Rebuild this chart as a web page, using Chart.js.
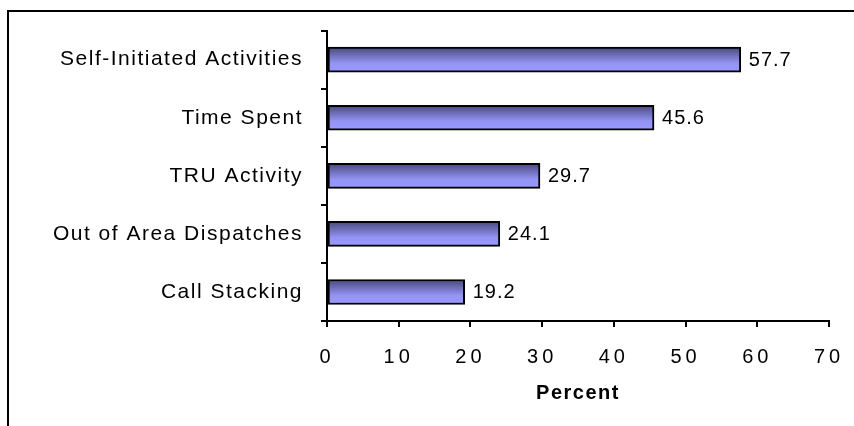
<!DOCTYPE html>
<html lang="en">
<head>
<meta charset="UTF-8">
<meta name="viewport" content="width=device-width, initial-scale=1.0">
<title>chart</title>
<style>
  body { margin: 0; background: #fff; }
  #wrap { position: relative; width: 854px; height: 426px; overflow: hidden; }
  #frame { position: absolute; left: 7px; top: 10px; width: 900px; height: 500px;
           border-top: 2px solid #000; border-left: 2px solid #000; }
  #myChart { position: absolute; left: 0; top: 0; }
</style>
</head>
<body>
<div id="wrap">
  <div id="frame"></div>
  <canvas id="myChart" width="854" height="426"></canvas>
</div>

<script src="https://cdn.jsdelivr.net/npm/chart.js"></script>
<script>
const categories = ['Self-Initiated Activities', 'Time Spent', 'TRU Activity', 'Out of Area Dispatches', 'Call Stacking'];
const percents = [57.7, 45.6, 29.7, 24.1, 19.2];
const xTicks = [0, 10, 20, 30, 40, 50, 60, 70];
const xTitle = 'Percent';

const FONT = '"Liberation Sans", Arial, sans-serif';

// vertical shading inside each bar, dark at the top edge
const barFill = (c) => {
  const chart = c.chart;
  if (!chart.chartArea || c.dataIndex === undefined) return '#9999ff';
  const y = chart.scales.y.getPixelForValue(c.dataIndex);
  const g = chart.ctx.createLinearGradient(0, y - 12, 0, y + 12);
  g.addColorStop(0, '#4a4a7e');
  g.addColorStop(0.65, '#9494f5');
  g.addColorStop(1, '#9999ff');
  return g;
};

// spacing for the texts + value labels next to the bars
const textPlugin = {
  id: 'textPlugin',
  beforeDraw(chart) {
    chart.ctx.letterSpacing = '1.5px';
  },
  afterDatasetsDraw(chart) {
    const ctx = chart.ctx;
    const meta = chart.getDatasetMeta(0);
    ctx.save();
    ctx.letterSpacing = '1px';
    ctx.font = '20px ' + FONT;
    ctx.fillStyle = '#000';
    ctx.textAlign = 'left';
    ctx.textBaseline = 'middle';
    meta.data.forEach((bar, i) => {
      ctx.fillText(percents[i].toFixed(1), bar.x + 8, bar.y + 1);
    });
    ctx.restore();
    ctx.letterSpacing = '4px';
  },
  afterDraw(chart) {
    chart.ctx.letterSpacing = '0px';
  }
};

new Chart(document.getElementById('myChart'), {
  type: 'bar',
  data: {
    labels: categories,
    datasets: [{
      data: percents,
      backgroundColor: barFill,
      borderColor: '#000',
      borderWidth: 2,
      borderSkipped: false,
      barThickness: 25
    }]
  },
  options: {
    indexAxis: 'y',
    responsive: false,
    animation: false,
    devicePixelRatio: 1,
    layout: { padding: { top: 30, right: 25, left: 0, bottom: 0 } },
    plugins: {
      legend: { display: false },
      tooltip: { enabled: false }
    },
    scales: {
      x: {
        min: 0,
        max: 70,
        afterBuildTicks: (s) => { s.ticks = xTicks.map(v => ({ value: v })); },
        afterFit: (s) => {
          s.height = 105;
          s.paddingLeft = 0;
          s.paddingRight = 0;
        },
        grid: { drawOnChartArea: false, drawTicks: true, tickLength: 6, color: '#000', lineWidth: 2 },
        border: { display: true, color: '#000', width: 2, z: 2 },
        ticks: { z: 1, padding: 18, color: '#000', font: { family: FONT, size: 20 } },
        title: {
          display: true,
          text: xTitle,
          color: '#000',
          font: { family: FONT, size: 20, weight: 'bold' },
          padding: { top: 21, bottom: 21 }
        }
      },
      y: {
        afterFit: (s) => { s.width = 327; },
        grid: { drawOnChartArea: false, drawTicks: true, tickLength: 6, color: '#000', lineWidth: 2 },
        border: { display: true, color: '#000', width: 2, z: 2 },
        ticks: { padding: 18, color: '#000', font: { family: FONT, size: 21 } }
      }
    }
  },
  plugins: [textPlugin]
});
</script>
</body>
</html>
